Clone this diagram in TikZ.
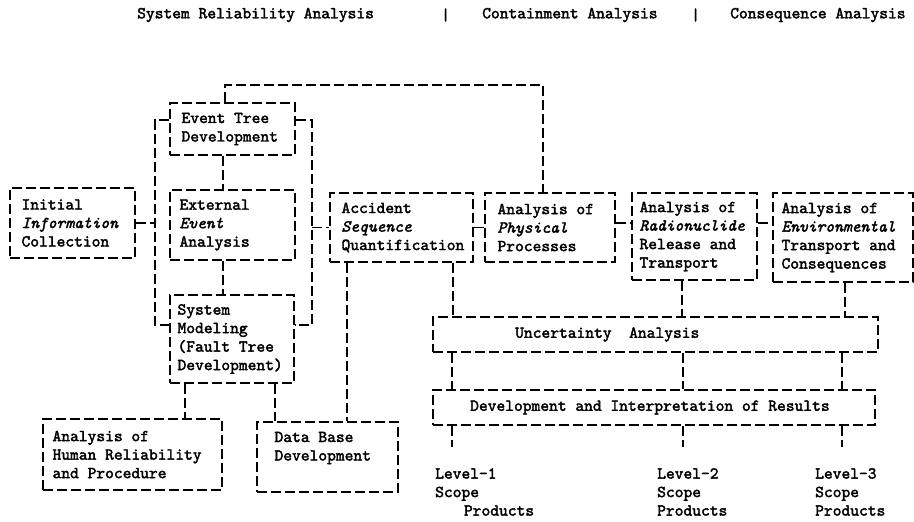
\documentclass[tikz,border=0pt]{standalone}
\usepackage{fontspec}
\setmainfont[Extension=.otf, UprightFont=*-regular, ItalicFont=*-italic, FakeBold=2.2]{lmmono10}
\usetikzlibrary{calc}
\begin{document}
\begin{tikzpicture}[x=1pt,y=-1pt,
  conn/.style={draw, line width=1.3pt, dash pattern=on 10pt off 4pt},
  box/.style={draw, line width=1.3pt, dash pattern=on 10pt off 4pt, rectangle, inner sep=0pt},
  lbl/.style={inner sep=0pt, align=left, font=\fontsize{16.7}{18.5}\selectfont}]
\useasboundingbox (0,0) rectangle (914,522);

% title row
\node[lbl, anchor=west] (t1) at (137,15) {System Reliability Analysis};
\node[lbl, anchor=west] (s1) at (441,15) {|};
\node[lbl, anchor=west] (t2) at (482,15) {Containment Analysis};
\node[lbl, anchor=west] (s2) at (691,15) {|};
\node[lbl, anchor=west] (t3) at (730,15) {Consequence Analysis};

% boxes
\node[box, minimum width=125pt, minimum height=70pt] (init) at (72.5,223) {};
\node[lbl, anchor=west] (initT) at ([xshift=12pt]init.west) {Initial\\\textit{Information}\\Collection};

\node[box, minimum width=125pt, minimum height=52pt] (etd) at (232.5,129) {};
\node[lbl, anchor=west] (etdT) at ([xshift=12pt]etd.west) {Event Tree\\Development};

\node[box, minimum width=125pt, minimum height=70pt] (eea) at (232.5,225) {};
\node[lbl, anchor=west] (eeaT) at ([xshift=10pt]eea.west) {External\\\textit{Event}\\Analysis};

\node[box, minimum width=124pt, minimum height=88pt] (sm) at (232,339) {};
\node[lbl, anchor=west] (smT) at ([xshift=8pt]sm.west) {System\\Modeling\\(Fault Tree\\Development)};

\node[box, minimum width=143pt, minimum height=69pt] (asq) at (401.5,227.5) {};
\node[lbl, anchor=west] (asqT) at ([xshift=12pt]asq.west) {Accident\\\textit{Sequence}\\Quantification};

\node[box, minimum width=130pt, minimum height=69pt] (phys) at (550,227.5) {};
\node[lbl, anchor=west] (physT) at ([xshift=13pt]phys.west) {Analysis of\\\textit{Physical}\\Processes};

\node[box, minimum width=125pt, minimum height=87pt] (rad) at (694.5,236.5) {};
\node[lbl, anchor=west] (radT) at ([xshift=8pt]rad.west) {Analysis of\\\textit{Radionuclide}\\Release and\\Transport};

\node[box, minimum width=140pt, minimum height=89pt] (env) at (843,237.5) {};
\node[lbl, anchor=west] (envT) at ([xshift=9pt]env.west) {Analysis of\\\textit{Environmental}\\Transport and\\Consequences};

\node[box, minimum width=445pt, minimum height=35pt] (unc) at (655.5,334.5) {};
\node[lbl, anchor=west] (uncT) at (515,334.5) {Uncertainty\ \ Analysis};

\node[box, minimum width=442pt, minimum height=35pt] (dev) at (654,407.5) {};
\node[lbl, anchor=west] (devT) at (470,407.5) {Development and Interpretation of Results};

\node[box, minimum width=179pt, minimum height=71pt] (hum) at (132.5,454.5) {};
\node[lbl, anchor=west] (humT) at ([xshift=10pt]hum.west) {Analysis of\\Human Reliability\\and Procedure};

\node[box, minimum width=141pt, minimum height=70pt] (db) at (327.5,457) {};
\node[lbl, anchor=west] (dbT) at ([xshift=18pt,yshift=9pt]db.west) {Data Base\\Development};

% level labels
\node[lbl, anchor=north west] (lv1) at (435,468) {Level-1\\Scope\\\hspace*{4ex}Products};
\node[lbl, anchor=north west] (lv2) at (657,468) {Level-2\\Scope\\Products};
\node[lbl, anchor=north west] (lv3) at (815,468) {Level-3\\Scope\\Products};
\coordinate (e1) at (452,447);
\coordinate (e2) at (683,447);
\coordinate (e3) at (842,447);

% connectors
\draw[conn] (etd.north -| 225,0) -- (225,85) -- (543,85) -- (phys.north -| 543,0);
\draw[conn] (etd.west |- 0,120) -- (155,120) -- (155,325) -- (sm.west |- 0,325);
\draw[conn] (init.east) -- (155,0 |- init.east);
\draw[conn] (etd.east |- 0,120) -- (312,120) -- (312,325) -- (sm.east |- 0,325);
\draw[conn] (312,0 |- asq.west) -- (asq.west);
\draw[conn] (etd.south -| 223,0) -- (eea.north -| 223,0);
\draw[conn] (eea.south -| 223,0) -- (sm.north -| 223,0);
\draw[conn] (sm.south -| 185,0) -- (hum.north -| 185,0);
\draw[conn] (sm.south -| 275,0) -- (db.north -| 275,0);
\draw[conn] (asq.south -| 347,0) -- (db.north -| 347,0);
\draw[conn] (asq.east) -- (phys.west);
\draw[conn] (phys.east |- 0,223) -- (rad.west |- 0,223);
\draw[conn] (rad.east |- 0,223) -- (env.west |- 0,223);
\draw[conn] (asq.south -| 453,0) -- (unc.north -| 453,0);
\draw[conn] (rad.south -| 682,0) -- (unc.north -| 682,0);
\draw[conn] (env.south -| 845,0) -- (unc.north -| 845,0);
\draw[conn] (unc.south -| 452,0) -- (dev.north -| 452,0);
\draw[conn] (unc.south -| 683,0) -- (dev.north -| 683,0);
\draw[conn] (unc.south -| 842,0) -- (dev.north -| 842,0);
\draw[conn] (dev.south -| 452,0) -- (e1);
\draw[conn] (dev.south -| 683,0) -- (e2);
\draw[conn] (dev.south -| 842,0) -- (e3);
\end{tikzpicture}
\end{document}
